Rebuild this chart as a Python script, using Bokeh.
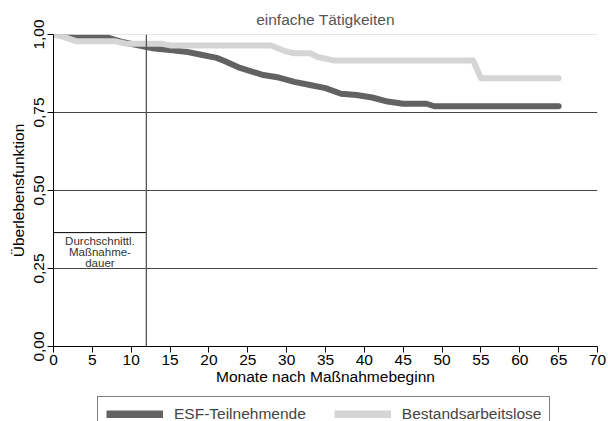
from bokeh.plotting import figure
from bokeh.layouts import column
from bokeh.models import Span, Legend, LegendItem, Label
from bokeh.embed import file_html
from bokeh.resources import INLINE

# ---- data ----
months_esf = [0, 2, 3, 7, 9, 12, 13, 15, 17, 19, 21, 22, 24, 27, 29, 31, 33, 35, 37, 39, 41, 43, 45, 48, 49, 65]
surv_esf = [1.0, 0.995, 0.99, 0.99, 0.975, 0.96, 0.955, 0.95, 0.945, 0.935, 0.925, 0.915, 0.893,
            0.870, 0.862, 0.848, 0.838, 0.828, 0.81, 0.806, 0.798, 0.785, 0.778, 0.778, 0.77, 0.77]

months_best = [0, 1, 3, 8, 9.5, 14, 15, 28, 30, 31, 33, 34, 36, 54, 55, 65]
surv_best = [1.0, 0.995, 0.978, 0.978, 0.97, 0.97, 0.965, 0.965, 0.945, 0.94, 0.94, 0.928, 0.917,
             0.917, 0.86, 0.86]

x_ticks = list(range(0, 71, 5))
y_ticks = [0, 0.25, 0.5, 0.75, 1.0]
y_tick_labels = ["0,00", "0,25", "0,50", "0,75", "1,00"]
grid_levels = [0.25, 0.5, 0.75]

avg_duration = 11.95
box_top = 0.365
box_lines = ["Durchschnittl.", "Maßnahme-", "dauer"]

title_text = "einfache Tätigkeiten"
x_label = "Monate nach Maßnahmebeginn"
y_label = "Überlebensfunktion"
series_names = ["ESF-Teilnehmende", "Bestandsarbeitslose"]
series_colors = ["#626262", "#d5d5d5"]

FONT = "Liberation Sans"
FS = "15.5px"

p = figure(width=608, height=391, output_backend="svg", toolbar_location=None,
           x_range=(0, 70), y_range=(0, 1),
           min_border_left=53, min_border_right=11, min_border_top=34, min_border_bottom=45)

p.outline_line_color = None
p.xgrid.visible = False
p.ygrid.visible = False
p.background_fill_color = "white"
p.border_fill_color = "white"

p.title.text = title_text
p.title.align = "center"
p.title.text_font = FONT
p.title.text_font_size = FS
p.title.text_font_style = "normal"
p.title.text_color = "#555555"
p.title.standoff = 14

for ax in (p.xaxis[0], p.yaxis[0]):
    ax.axis_line_color = "black"
    ax.axis_line_width = 1
    ax.major_tick_line_color = "black"
    ax.major_tick_out = 6
    ax.major_tick_in = 0
    ax.minor_tick_line_color = None
    ax.major_label_text_font = FONT
    ax.major_label_text_font_size = FS
    ax.major_label_text_color = "black"
    ax.axis_label_text_font = FONT
    ax.axis_label_text_font_size = FS
    ax.axis_label_text_font_style = "normal"
    ax.axis_label_text_color = "black"

p.xaxis.ticker = x_ticks
p.xaxis.axis_label = x_label
p.xaxis.major_label_standoff = 2
p.xaxis.axis_label_standoff = 0

p.yaxis.ticker = y_ticks
p.yaxis.major_label_overrides = {t: l for t, l in zip(y_ticks, y_tick_labels)}
p.yaxis.major_label_orientation = "vertical"
p.yaxis.axis_label = y_label
p.yaxis.major_label_standoff = 4
p.yaxis.axis_label_standoff = 4

# grid lines
for g in grid_levels:
    p.add_layout(Span(location=g, dimension="width", line_color="#444444", line_width=1))
p.add_layout(Span(location=1.0, dimension="width", line_color="#cccccc", line_width=1))

# average duration marker
p.add_layout(Span(location=avg_duration, dimension="height", line_color="#555555", line_width=1.3))
p.line([0, avg_duration], [box_top, box_top], line_color="black", line_width=1)
for i, t in enumerate(box_lines):
    p.add_layout(Label(x=avg_duration / 2, y=box_top, y_offset=-8 - 11 * i, text=t,
                       text_align="center", text_baseline="middle", text_font=FONT,
                       text_font_size="11.5px", text_color="#333333"))

p.line(months_esf, surv_esf, line_width=6, line_color=series_colors[0],
       line_cap="round", line_join="round")
p.line(months_best, surv_best, line_width=6, line_color=series_colors[1],
       line_cap="round", line_join="round")

# ---- legend strip (series drawn out of view, only their legend swatches show) ----
q = figure(width=608, height=30, output_backend="svg", toolbar_location=None,
           x_range=(0, 70), y_range=(2, 3), min_border=0)
q.axis.visible = False
q.grid.visible = False
q.outline_line_color = None
q.background_fill_color = "white"
q.border_fill_color = "white"
lr = [q.line(months_esf, surv_esf, line_width=8, line_color=series_colors[0], line_cap="butt"),
      q.line(months_best, surv_best, line_width=8, line_color=series_colors[1], line_cap="butt")]
legend = Legend(items=[LegendItem(label=n, renderers=[r]) for n, r in zip(series_names, lr)],
                orientation="horizontal", location=(44, -11),
                border_line_color="black", border_line_width=1,
                background_fill_color="white", background_fill_alpha=1,
                label_text_font=FONT, label_text_font_size=FS,
                glyph_width=57, glyph_height=8, label_standoff=11,
                spacing=28, padding=8, margin=0)
q.add_layout(legend)

open("out.html", "w").write(file_html(column(p, q, spacing=0), INLINE))
